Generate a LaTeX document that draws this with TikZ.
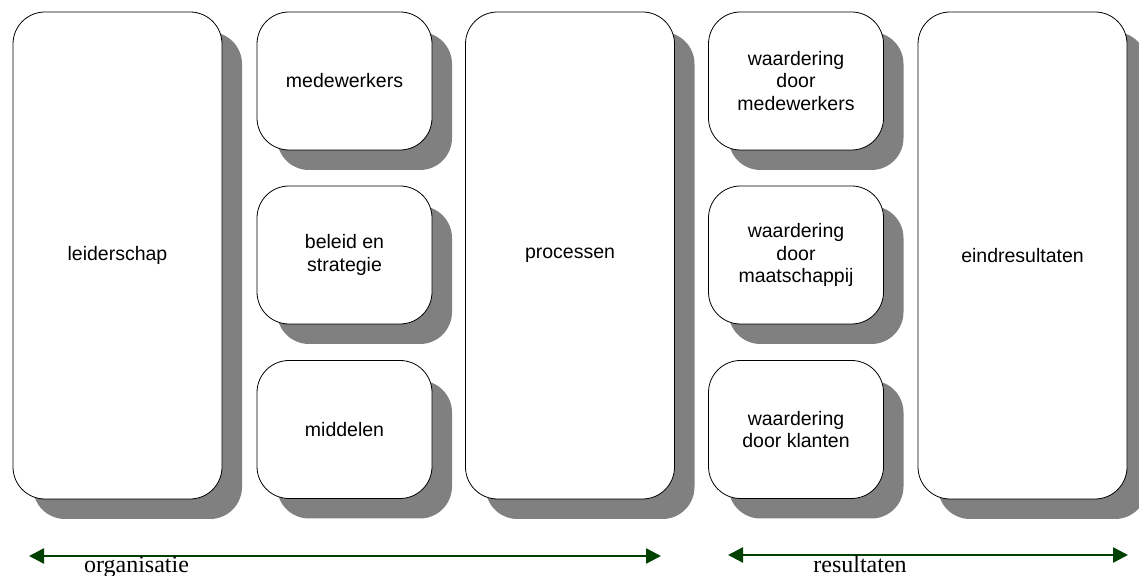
\documentclass[tikz,border=0pt]{standalone}
\usepackage{fontspec}
\setmainfont{Liberation Serif}
\setsansfont{Liberation Sans}
\usetikzlibrary{shadows,arrows.meta}
\definecolor{arrowgreen}{RGB}{0,64,0}

\begin{document}
\begin{tikzpicture}[x=1pt, y=1pt,
  box/.style={draw, fill=white, line width=0.8pt, rounded corners=32pt, inner sep=0pt, align=center,
    font=\sffamily\fontsize{19.5}{22.5}\selectfont,
    drop shadow={shadow xshift=20pt, shadow yshift=-20pt, opacity=1, fill=gray}},
  tallbox/.style={box, minimum width=209pt, minimum height=487pt},
  smallbox/.style={box, minimum width=175pt, minimum height=138pt},
  span/.style={arrowgreen, line width=2.5pt, {Triangle[length=15pt, width=15pt]}-{Triangle[length=15pt, width=15pt]}},
  spanlabel/.style={anchor=base, font=\rmfamily\fontsize{24}{28}\selectfont}]
\useasboundingbox (0,0) rectangle (1139,575);
% organisatie
\node[tallbox] (lead) at (117.5,319.5) {leiderschap};
\node[smallbox] (med) at (344.5,494) {medewerkers};
\node[smallbox] (bel) at (344.5,320) {beleid en\\strategie};
\node[smallbox] (mid) at (344.5,145.5) {middelen};
\node[tallbox] (proc) at (570,319.5) {processen};
% resultaten
\node[smallbox] (wmed) at (796,494) {waardering\\door\\medewerkers};
\node[smallbox] (wmaat) at (796,320) {waardering\\door\\maatschappij};
\node[smallbox] (wkl) at (796,145.5) {waardering\\door klanten};
\node[tallbox] (eind) at (1022.5,319.5) {eindresultaten};
% spans
\coordinate (orgl) at (29,19);
\coordinate (orgr) at (661,19);
\coordinate (resl) at (728,20);
\coordinate (resr) at (1128,20);
\draw[span] (orgl) -- (orgr);
\draw[span] (resl) -- (resr);
\node[spanlabel] (org) at (136.5,3) {organisatie};
\node[spanlabel] (res) at (860,3) {resultaten};
\end{tikzpicture}
\end{document}
